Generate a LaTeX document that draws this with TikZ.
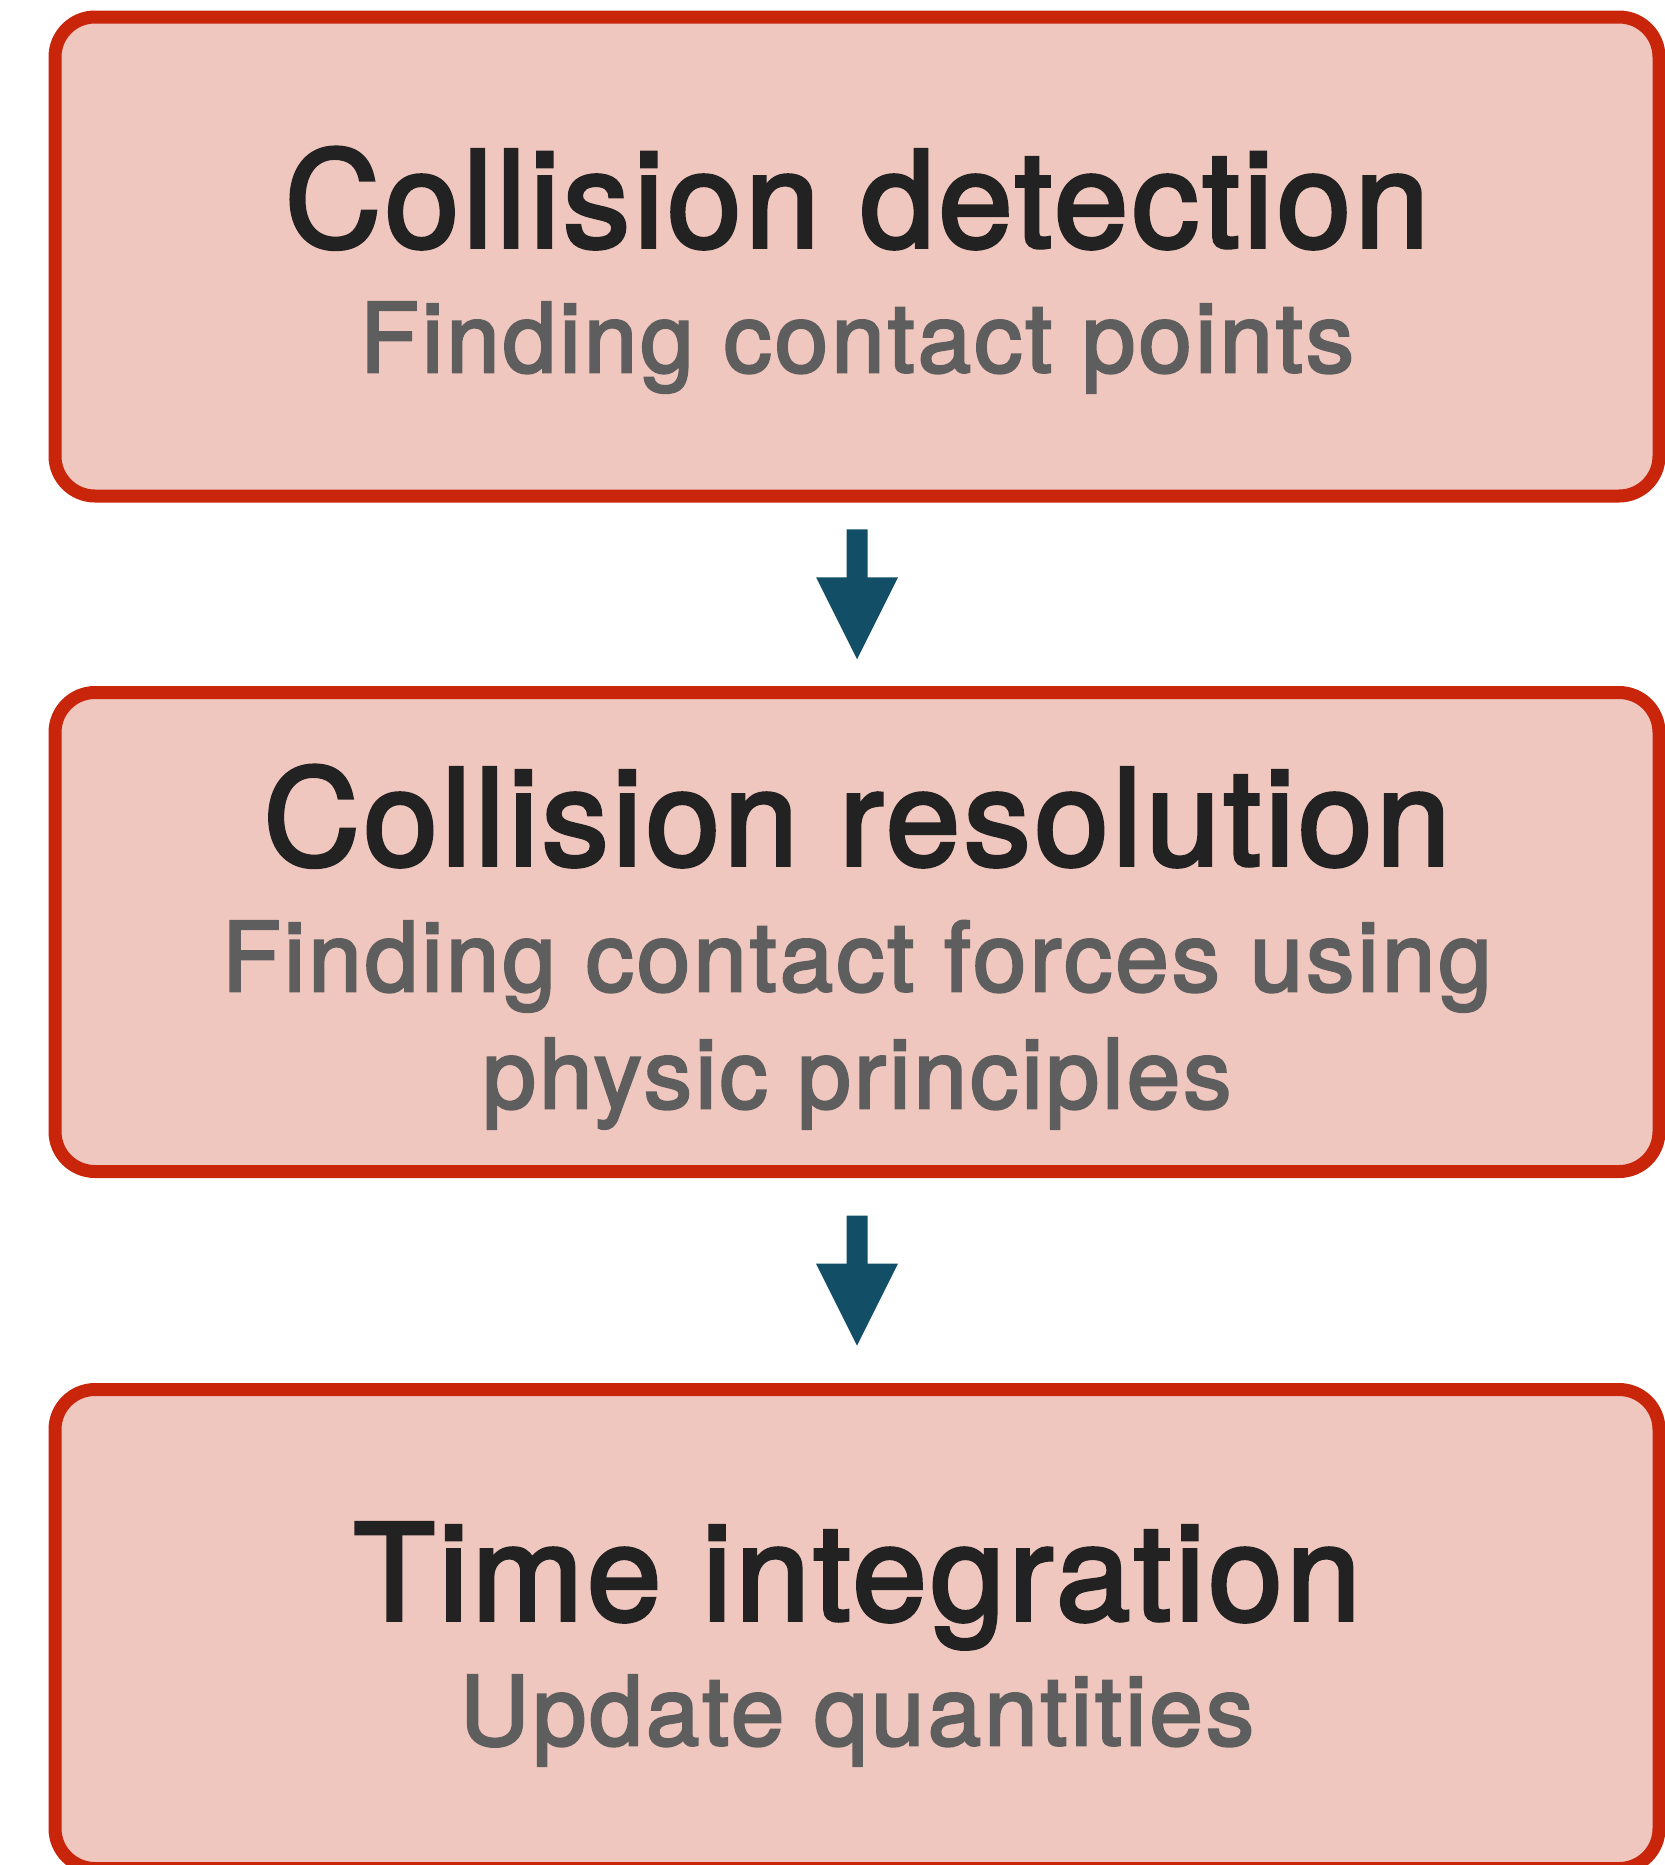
\documentclass[tikz,border=0pt]{standalone}
\usepackage{fontspec}
\usetikzlibrary{calc}
\newfontfamily\headfont[FakeBold=2.7,LetterSpace=2.8]{TeX Gyre Heros}
\newfontfamily\subfont[FakeBold=2.6,LetterSpace=3.3]{TeX Gyre Heros}
\definecolor{boxline}{HTML}{C8250A}
\definecolor{boxfill}{HTML}{F0C7BF}
\definecolor{arrowblue}{HTML}{134E67}
\definecolor{headtext}{HTML}{222222}
\definecolor{subtext}{HTML}{5E5E5E}
% block arrow centred on a coordinate, pointing down
\newcommand\stagearrow[1]{%
  \fill[flow] ($(#1)+(-10.5,-65)$) -- ($(#1)+(10.5,-65)$) -- ($(#1)+(10.5,-17)$)
    -- ($(#1)+(41,-17)$) -- ($(#1)+(0,65)$) -- ($(#1)+(-41,-17)$)
    -- ($(#1)+(-10.5,-17)$) -- cycle;}
\begin{document}
\begin{tikzpicture}[x=0.5pt,y=-0.5pt,
  stage/.style={draw=boxline, fill=boxfill, line width=6.5pt, rounded corners=20pt,
    minimum width=802pt, minimum height=239.5pt, inner sep=0pt},
  head/.style={anchor=base, inner sep=0pt, text=headtext,
    font=\headfont\fontsize{66.8}{80}\selectfont},
  sub/.style={anchor=base, inner sep=0pt, text=subtext,
    font=\subfont\fontsize{48}{58}\selectfont},
  flow/.style={fill=arrowblue}]
\clip (0,0) rectangle (1665,1865);

% the three stages
\node[stage] (b1) at (857,256.5) {};
\node[stage] (b2) at (857,932) {};
\node[stage] (b3) at (857,1629) {};

\node[head] (h1) at (857,247) {Collision detection};
\node[sub]  (s1) at (857,372) {Finding contact points};

\node[head] (h2) at (857,865) {Collision resolution};
\node[sub]  (s2a) at (857,991) {Finding contact forces using};
\node[sub]  (s2b) at (857,1108) {physic principles};

\node[head] (h3) at (857,1620) {Time integration};
\node[sub]  (s3) at (857,1745) {Update quantities};

% connectors between stages
\coordinate (m1) at ($(b1.south)!0.5!(b2.north)$);
\coordinate (m2) at ($(b2.south)!0.5!(b3.north)$);
\stagearrow{m1}
\stagearrow{m2}
\end{tikzpicture}
\end{document}
